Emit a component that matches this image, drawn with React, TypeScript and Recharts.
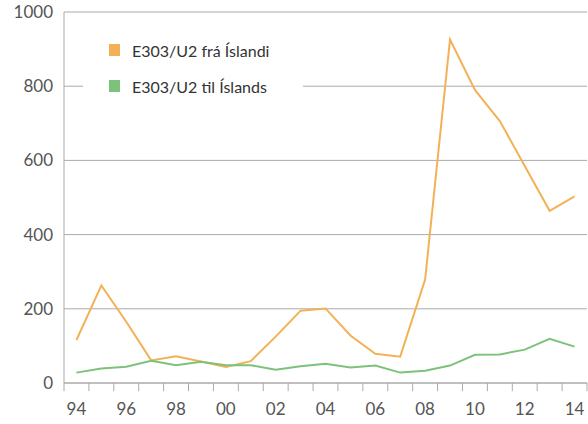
import React from 'react';
import { LineChart, Line, XAxis, YAxis, CartesianGrid, ReferenceLine } from 'recharts';

const years = [1994, 1995, 1996, 1997, 1998, 1999, 2000, 2001, 2002, 2003, 2004, 2005, 2006, 2007, 2008, 2009, 2010, 2011, 2012, 2013, 2014];
const fraIslandi = [116, 263, 165, 61, 72, 58, 43, 59, 125, 195, 201, 128, 79, 71, 279, 926, 790, 706, 585, 464, 503];
const tilIslands = [28, 39, 44, 60, 48, 57, 48, 48, 36, 45, 52, 42, 47, 28, 33, 47, 76, 77, 90, 119, 98];
const yTicks = [0, 200, 400, 600, 800, 1000];
const labelYears = [1994, 1996, 1998, 2000, 2002, 2004, 2006, 2008, 2010, 2012, 2014];

const series = [
  { key: 'fra', name: 'E303/U2 frá Íslandi', color: '#F3B156' },
  { key: 'til', name: 'E303/U2 til Íslands', color: '#7DC27B' },
];

const data = years.map((year, i) => ({ year, fra: fraIslandi[i], til: tilIslands[i] }));

const xDomain = [years[0] - 0.5, years[years.length - 1] + 0.5];
// small tick marks between the years, hanging just under the x axis
const boundaries = [...years.map((y) => y - 0.5), years[years.length - 1] + 0.5];
const markDepth = -22;

// legend sits over the chart on a white box that hides part of the 800 gridline
const LegendBox = () => (
  <div style={{ position: 'absolute', left: 83, top: 32, background: '#fff', width: 220, height: 72 }}>
    {series.map((s) => (
      <div key={s.key} style={{ height: 36, display: 'flex', alignItems: 'center' }}>
        <span style={{ display: 'inline-block', width: 11, height: 12, background: s.color, marginLeft: 26 }} />
        <span style={{ marginLeft: 12, fontSize: 16, color: '#333' }}>{s.name}</span>
      </div>
    ))}
  </div>
);

export default function App() {
  return (
    <div style={{ position: 'absolute', left: 0, top: 0, width: 588, height: 424, fontFamily: 'Lato, sans-serif' }}>
      <LineChart width={588} height={424} data={data} margin={{ top: 12, right: 1, bottom: 0, left: 0 }}>
        <CartesianGrid vertical={false} stroke="#aaa" />
        <XAxis
          dataKey="year"
          type="number"
          domain={xDomain}
          allowDataOverflow
          ticks={labelYears}
          interval={0}
          tickLine={false}
          tickSize={0}
          tickMargin={20}
          tickFormatter={(v: number) => String(v).slice(2)}
          tick={{ fill: '#555', fontSize: 17 }}
          height={41}
          stroke="#aaa"
        />
        <YAxis
          domain={[0, 1000]}
          ticks={yTicks}
          width={64}
          tickLine={false}
          tickSize={0}
          tickMargin={11}
          stroke="#aaa"
          tick={{ fill: '#555', fontSize: 17 }}
        />
        {boundaries.map((b) => (
          <ReferenceLine
            key={b}
            segment={[{ x: b, y: 0 }, { x: b, y: markDepth }]}
            ifOverflow="visible"
            stroke="#aaa"
          />
        ))}
        {series.map((s) => (
          <Line
            key={s.key}
            dataKey={s.key}
            name={s.name}
            stroke={s.color}
            strokeWidth={2}
            dot={false}
            isAnimationActive={false}
          />
        ))}
      </LineChart>
      <LegendBox />
    </div>
  );
}
